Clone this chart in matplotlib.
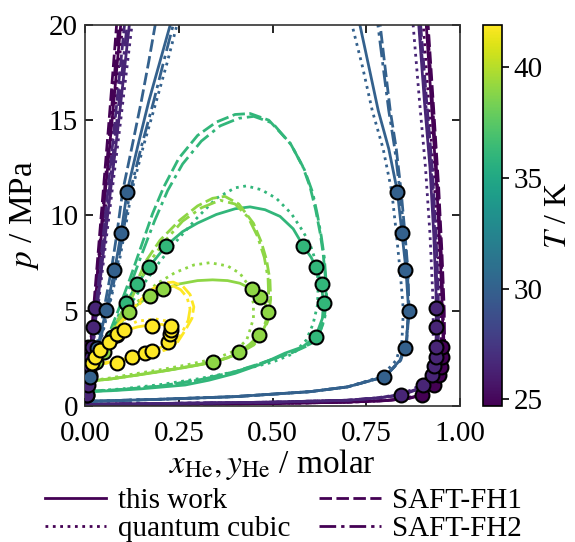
import numpy as np
import matplotlib
matplotlib.use("Agg")
import matplotlib.pyplot as plt
from matplotlib.lines import Line2D

plt.rcParams['font.family'] = ['Liberation Serif', 'DejaVu Serif']
plt.rcParams['mathtext.fontset'] = 'stix'

# ---------------- data ----------------
temperatures = [24.7, 26.5, 30.0, 36.0, 39.0, 41.9]
t_min, t_max = 24.7, 41.9
models = ["this work", "quantum cubic", "SAFT-FH1", "SAFT-FH2"]

# T = 24.7 K  (liquid and vapour branches, leave through the top)
t1_liq_p = [0.06, 2, 5, 10, 15, 20, 21]
t1_liq_solid_x = [0, 0.01, 0.025, 0.048, 0.072, 0.095, 0.1]
t1_liq_dot_x = [0, 0.011, 0.027, 0.052, 0.077, 0.1, 0.105]
t1_liq_dash_x = [0, 0.009, 0.022, 0.043, 0.064, 0.084, 0.088]
t1_liq_dd_x = [0, 0.0095, 0.024, 0.046, 0.068, 0.09, 0.094]
t1_vap_p = [0.06, 0.08, 0.13, 0.2, 0.28, 0.4, 0.6, 1.1, 1.6, 2.2, 3.2, 5, 8, 11.5, 15.5, 20, 21]
t1_vap_solid_x = [0, 0.2, 0.5, 0.7, 0.8, 0.86, 0.9, 0.93, 0.945, 0.952, 0.955, 0.953, 0.947, 0.938, 0.925, 0.91, 0.906]
t1_vap_dot_x = [0, 0.2, 0.5, 0.7, 0.8, 0.855, 0.893, 0.924, 0.94, 0.947, 0.95, 0.948, 0.942, 0.932, 0.918, 0.902, 0.898]
t1_vap_dash_x = [0, 0.2, 0.5, 0.7, 0.8, 0.865, 0.905, 0.934, 0.949, 0.956, 0.959, 0.958, 0.952, 0.943, 0.93, 0.915, 0.911]
t1_vap_dd_x = [0, 0.2, 0.5, 0.7, 0.8, 0.862, 0.902, 0.932, 0.947, 0.954, 0.957, 0.955, 0.95, 0.94, 0.928, 0.913, 0.909]

# T = 26.5 K
t2_liq_p = [0.1, 2, 5, 10, 15, 20, 21]
t2_liq_solid_x = [0, 0.013, 0.031, 0.06, 0.09, 0.118, 0.124]
t2_liq_dot_x = [0, 0.014, 0.033, 0.064, 0.095, 0.125, 0.131]
t2_liq_dash_x = [0, 0.012, 0.028, 0.054, 0.08, 0.105, 0.11]
t2_liq_dd_x = [0, 0.0125, 0.03, 0.057, 0.085, 0.112, 0.117]
t2_vap_p = [0.1, 0.13, 0.2, 0.3, 0.42, 0.58, 0.85, 1.15, 1.6, 2.1, 2.8, 4, 6, 9, 12.5, 16, 20, 21]
t2_vap_solid_x = [0, 0.2, 0.5, 0.7, 0.78, 0.84, 0.88, 0.905, 0.922, 0.93, 0.935, 0.937, 0.936, 0.93, 0.92, 0.905, 0.89, 0.886]
t2_vap_dot_x = [0, 0.2, 0.5, 0.7, 0.775, 0.832, 0.872, 0.897, 0.914, 0.922, 0.927, 0.929, 0.927, 0.92, 0.908, 0.892, 0.875, 0.871]
t2_vap_dash_x = [0, 0.2, 0.5, 0.7, 0.783, 0.845, 0.885, 0.91, 0.927, 0.936, 0.941, 0.943, 0.942, 0.936, 0.926, 0.911, 0.895, 0.891]
t2_vap_dd_x = [0, 0.2, 0.5, 0.7, 0.782, 0.843, 0.883, 0.908, 0.925, 0.933, 0.938, 0.94, 0.939, 0.933, 0.923, 0.908, 0.892, 0.888]

# T = 30 K
t3_liq_p = [0.24, 1.54, 3.03, 5.04, 7.14, 9.07, 11.25, 13.6, 16, 18.1, 20, 21]
t3_liq_solid_x = [0, 0.013, 0.033, 0.056, 0.079, 0.096, 0.112, 0.14, 0.17, 0.2, 0.227, 0.24]
t3_liq_dot_x = [0, 0.015, 0.037, 0.062, 0.087, 0.105, 0.124, 0.155, 0.19, 0.22, 0.245, 0.258]
t3_liq_dash_x = [0, 0.012, 0.03, 0.05, 0.07, 0.085, 0.1, 0.125, 0.15, 0.17, 0.187, 0.196]
t3_liq_dd_x = [0, 0.014, 0.035, 0.06, 0.084, 0.101, 0.12, 0.15, 0.183, 0.21, 0.235, 0.247]
t3_vap_p = [0.24, 0.35, 0.49, 0.75, 1.0, 1.54, 2.4, 3.4, 5.0, 7.14, 9.1, 11.25, 13.5, 15.5, 17.8, 20, 21]
t3_vap_solid_x = [0, 0.2, 0.4, 0.6, 0.7, 0.8, 0.84, 0.857, 0.863, 0.856, 0.845, 0.833, 0.81, 0.782, 0.757, 0.733, 0.722]
t3_vap_dot_x = [0, 0.2, 0.4, 0.6, 0.7, 0.79, 0.83, 0.845, 0.849, 0.84, 0.83, 0.818, 0.795, 0.766, 0.74, 0.712, 0.7]
t3_vap_dash_x = [0, 0.2, 0.4, 0.6, 0.7, 0.8, 0.842, 0.858, 0.864, 0.861, 0.853, 0.843, 0.83, 0.814, 0.8, 0.787, 0.781]
t3_vap_dd_x = [0, 0.2, 0.4, 0.6, 0.7, 0.8, 0.841, 0.857, 0.863, 0.86, 0.851, 0.84, 0.826, 0.81, 0.795, 0.781, 0.775]

# T = 36 K (closed loops: bubble branch up, dew branch down)
t4_solid_x = [0, 0.03, 0.06, 0.085, 0.109, 0.139, 0.171, 0.216, 0.26, 0.3, 0.35, 0.4, 0.44, 0.48, 0.52, 0.555, 0.582, 0.603, 0.618, 0.63, 0.636, 0.633, 0.615, 0.58, 0.533, 0.47, 0.4, 0.33, 0.267, 0.15, 0.07, 0]
t4_solid_p = [0.75, 2.0, 3.3, 4.4, 5.39, 6.4, 7.31, 8.41, 9.15, 9.6, 10.05, 10.35, 10.45, 10.3, 9.95, 9.3, 8.4, 7.8, 7.2, 6.4, 5.4, 4.6, 3.64, 3.1, 2.77, 2.2, 1.71, 1.35, 1.1, 0.9, 0.8, 0.75]
t4_dot_x = [0, 0.03, 0.06, 0.09, 0.12, 0.16, 0.2, 0.25, 0.3, 0.35, 0.4, 0.43, 0.47, 0.51, 0.55, 0.58, 0.6, 0.615, 0.622, 0.62, 0.608, 0.59, 0.556, 0.5, 0.4, 0.3, 0.2, 0.1, 0]
t4_dot_p = [0.75, 2.0, 3.2, 4.3, 5.3, 6.5, 7.6, 8.8, 9.9, 10.9, 11.45, 11.55, 11.35, 10.9, 10.1, 9.2, 8.5, 7.6, 6.5, 5.3, 4.3, 3.46, 2.75, 2.3, 1.8, 1.42, 1.12, 0.9, 0.75]
t4_dash_x = [0, 0.03, 0.06, 0.09, 0.12, 0.15, 0.18, 0.21, 0.25, 0.3, 0.35, 0.4, 0.44, 0.49, 0.547, 0.58, 0.6, 0.615, 0.627, 0.635, 0.642, 0.643, 0.638, 0.625, 0.6, 0.55, 0.47, 0.4, 0.3, 0.2, 0.1, 0]
t4_dash_p = [0.75, 2.1, 3.6, 5.1, 6.7, 8.4, 10.1, 11.5, 13.0, 14.2, 14.9, 15.3, 15.35, 15.0, 13.8, 12.6, 11.5, 10.3, 9.07, 8.0, 6.5, 5.5, 4.6, 3.8, 3.25, 2.8, 2.25, 1.8, 1.35, 1.05, 0.87, 0.75]
t4_dd_x = [0, 0.03, 0.06, 0.09, 0.12, 0.15, 0.185, 0.22, 0.26, 0.31, 0.36, 0.41, 0.45, 0.5, 0.55, 0.585, 0.607, 0.62, 0.63, 0.638, 0.643, 0.645, 0.638, 0.624, 0.6, 0.55, 0.47, 0.4, 0.3, 0.2, 0.1, 0]
t4_dd_p = [0.75, 2.0, 3.4, 4.8, 6.3, 7.9, 9.7, 11.3, 12.7, 13.9, 14.7, 15.1, 15.2, 14.85, 13.7, 12.4, 11.2, 10.0, 8.9, 7.8, 6.5, 5.3, 4.5, 3.75, 3.22, 2.78, 2.24, 1.79, 1.34, 1.04, 0.86, 0.75]

# T = 39 K
t5_solid_x = [0, 0.03, 0.06, 0.09, 0.118, 0.145, 0.173, 0.209, 0.25, 0.3, 0.34, 0.38, 0.413, 0.446, 0.467, 0.482, 0.488, 0.485, 0.475, 0.464, 0.44, 0.411, 0.38, 0.342, 0.267, 0.2, 0.133, 0.07, 0]
t5_solid_p = [1.28, 2.3, 3.3, 4.2, 4.95, 5.4, 5.77, 6.12, 6.4, 6.58, 6.62, 6.58, 6.44, 6.12, 5.74, 5.3, 4.95, 4.4, 4.0, 3.73, 3.25, 2.82, 2.52, 2.29, 2.02, 1.8, 1.6, 1.42, 1.28]
t5_dot_x = [0, 0.03, 0.06, 0.09, 0.12, 0.15, 0.19, 0.24, 0.29, 0.333, 0.38, 0.413, 0.437, 0.449, 0.449, 0.44, 0.431, 0.4, 0.35, 0.27, 0.2, 0.13, 0.07, 0]
t5_dot_p = [1.28, 2.3, 3.3, 4.2, 5.0, 5.7, 6.4, 7.0, 7.4, 7.52, 7.35, 6.96, 6.3, 5.39, 4.6, 4.0, 3.46, 2.9, 2.5, 2.15, 1.9, 1.68, 1.48, 1.28]
t5_dash_x = [0, 0.03, 0.06, 0.09, 0.111, 0.135, 0.164, 0.2, 0.253, 0.3, 0.34, 0.373, 0.41, 0.449, 0.47, 0.484, 0.493, 0.495, 0.488, 0.475, 0.45, 0.41, 0.35, 0.27, 0.2, 0.13, 0.07, 0]
t5_dash_p = [1.28, 2.4, 3.5, 4.6, 5.39, 6.4, 7.66, 8.7, 9.76, 10.5, 10.9, 11.0, 10.6, 9.59, 8.6, 7.66, 6.61, 5.6, 4.5, 3.8, 3.2, 2.75, 2.35, 2.05, 1.82, 1.6, 1.43, 1.28]
t5_dd_x = [0, 0.03, 0.06, 0.09, 0.115, 0.14, 0.17, 0.21, 0.26, 0.31, 0.36, 0.4, 0.435, 0.46, 0.478, 0.488, 0.49, 0.483, 0.47, 0.445, 0.41, 0.35, 0.27, 0.2, 0.13, 0.07, 0]
t5_dd_p = [1.28, 2.3, 3.4, 4.4, 5.3, 6.3, 7.5, 8.6, 9.7, 10.4, 10.8, 10.6, 9.9, 8.9, 7.8, 6.7, 5.6, 4.5, 3.8, 3.2, 2.74, 2.34, 2.04, 1.81, 1.6, 1.42, 1.28]

# T = 41.9 K
t6_solid_x = [0, 0.018, 0.04, 0.065, 0.084, 0.105, 0.14, 0.178, 0.205, 0.222, 0.229, 0.228, 0.222, 0.205, 0.178, 0.16, 0.124, 0.084, 0.04, 0]
t6_solid_p = [2.1, 2.5, 2.94, 3.38, 3.7, 3.95, 4.15, 4.27, 4.28, 4.2, 4.0, 3.76, 3.4, 3.1, 2.9, 2.77, 2.56, 2.38, 2.22, 2.1]
t6_dot_x = [0, 0.02, 0.045, 0.07, 0.1, 0.14, 0.187, 0.22, 0.237, 0.24, 0.232, 0.21, 0.18, 0.13, 0.08, 0.04, 0]
t6_dot_p = [2.1, 2.6, 3.1, 3.6, 4.1, 4.45, 4.57, 4.45, 4.15, 3.8, 3.4, 3.05, 2.85, 2.6, 2.38, 2.22, 2.1]
t6_dash_x = [0, 0.03, 0.06, 0.09, 0.12, 0.15, 0.18, 0.21, 0.235, 0.26, 0.28, 0.29, 0.285, 0.268, 0.245, 0.215, 0.18, 0.13, 0.08, 0.04, 0]
t6_dash_p = [2.1, 2.85, 3.6, 4.3, 4.95, 5.6, 6.15, 6.45, 6.5, 6.3, 5.85, 5.2, 4.6, 4.0, 3.3, 2.95, 2.75, 2.52, 2.33, 2.2, 2.1]
t6_dd_x = [0, 0.03, 0.06, 0.09, 0.12, 0.15, 0.18, 0.21, 0.235, 0.255, 0.272, 0.28, 0.275, 0.26, 0.24, 0.21, 0.18, 0.13, 0.08, 0.04, 0]
t6_dd_p = [2.1, 2.8, 3.5, 4.2, 4.85, 5.45, 5.95, 6.25, 6.3, 6.1, 5.7, 5.1, 4.5, 3.9, 3.25, 2.93, 2.74, 2.51, 2.32, 2.19, 2.1]

# experimental points
exp1_x = [0.004, 0.005, 0.006, 0.007, 0.008, 0.009, 0.898, 0.931, 0.945, 0.949, 0.951, 0.951]
exp1_p = [0.58, 1.1, 1.63, 2.07, 2.59, 3.11, 0.58, 1.1, 1.63, 2.07, 2.59, 3.11]
exp2_x = [0.006, 0.009, 0.012, 0.014, 0.016, 0.018, 0.022, 0.027, 0.843, 0.9, 0.924, 0.931, 0.935, 0.936, 0.936, 0.936]
exp2_p = [0.58, 1.1, 1.63, 2.1, 2.59, 3.11, 4.13, 5.13, 0.58, 1.1, 1.63, 2.1, 2.59, 3.11, 4.16, 5.13]
exp3_x = [0.013, 0.033, 0.055, 0.078, 0.095, 0.111, 0.798, 0.854, 0.864, 0.854, 0.844, 0.833]
exp3_p = [1.54, 3.03, 5.04, 7.14, 9.07, 11.25, 1.5, 3.03, 5.0, 7.14, 9.1, 11.25]
exp4_x = [0.072, 0.109, 0.139, 0.171, 0.216, 0.615, 0.638, 0.633, 0.616, 0.582]
exp4_p = [3.64, 5.39, 6.4, 7.31, 8.41, 3.64, 5.39, 6.39, 7.31, 8.4]
exp5_x = [0.03, 0.05, 0.085, 0.118, 0.173, 0.209, 0.342, 0.411, 0.464, 0.487, 0.467, 0.446]
exp5_p = [2.29, 2.82, 3.73, 4.95, 5.77, 6.12, 2.29, 2.82, 3.73, 4.95, 5.74, 6.12]
exp6_x = [0.018, 0.027, 0.04, 0.065, 0.084, 0.105, 0.178, 0.084, 0.124, 0.16, 0.178, 0.22, 0.226, 0.229, 0.228]
exp6_p = [2.24, 2.59, 2.94, 3.38, 3.78, 3.99, 4.2, 2.24, 2.56, 2.77, 2.9, 3.38, 3.76, 3.99, 4.2]

open_curves = [
    (t1_liq_p, [t1_liq_solid_x, t1_liq_dot_x, t1_liq_dash_x, t1_liq_dd_x]),
    (t1_vap_p, [t1_vap_solid_x, t1_vap_dot_x, t1_vap_dash_x, t1_vap_dd_x]),
    (t2_liq_p, [t2_liq_solid_x, t2_liq_dot_x, t2_liq_dash_x, t2_liq_dd_x]),
    (t2_vap_p, [t2_vap_solid_x, t2_vap_dot_x, t2_vap_dash_x, t2_vap_dd_x]),
    (t3_liq_p, [t3_liq_solid_x, t3_liq_dot_x, t3_liq_dash_x, t3_liq_dd_x]),
    (t3_vap_p, [t3_vap_solid_x, t3_vap_dot_x, t3_vap_dash_x, t3_vap_dd_x]),
]
open_temps = [0, 0, 1, 1, 2, 2]
loops = {
    3: [(t4_solid_x, t4_solid_p), (t4_dot_x, t4_dot_p), (t4_dash_x, t4_dash_p), (t4_dd_x, t4_dd_p)],
    4: [(t5_solid_x, t5_solid_p), (t5_dot_x, t5_dot_p), (t5_dash_x, t5_dash_p), (t5_dd_x, t5_dd_p)],
    5: [(t6_solid_x, t6_solid_p), (t6_dot_x, t6_dot_p), (t6_dash_x, t6_dash_p), (t6_dd_x, t6_dd_p)],
}
exp_sets = [(exp1_x, exp1_p), (exp2_x, exp2_p), (exp3_x, exp3_p),
            (exp4_x, exp4_p), (exp5_x, exp5_p), (exp6_x, exp6_p)]

styles = ['-', ':', (0, (4.5, 1.6)), (0, (6, 1.8, 1.2, 1.8))]
lw = 2.0

# ---------------- figure ----------------
fig = plt.figure(figsize=(5.75, 5.42), dpi=100)
ax = fig.add_axes([0.148, 0.251, 0.652, 0.703])
cax = fig.add_axes([0.840, 0.251, 0.033, 0.703])

cmap = plt.get_cmap('viridis')
norm = matplotlib.colors.Normalize(vmin=t_min, vmax=t_max)

for (pp, xs_list), ti in zip(open_curves, open_temps):
    c = cmap(norm(temperatures[ti]))
    for xs, ls in zip(xs_list, styles):
        ax.plot(xs, pp, color=c, ls=ls, lw=lw, zorder=2)

for ti, curves in loops.items():
    c = cmap(norm(temperatures[ti]))
    for (xs, ps), ls in zip(curves, styles):
        ax.plot(xs, ps, color=c, ls=ls, lw=lw, zorder=2)

for ti, (ex, ep) in enumerate(exp_sets):
    c = cmap(norm(temperatures[ti]))
    ax.plot(ex, ep, 'o', ms=10, mfc=c, mec='black', mew=1.5, ls='none', zorder=3)

ax.set_xlim(0, 1)
ax.set_ylim(0, 20)
ax.set_xticks([0, 0.25, 0.5, 0.75, 1.0])
ax.set_xticklabels(['0.00', '0.25', '0.50', '0.75', '1.00'])
ax.set_yticks([0, 5, 10, 15, 20])
ax.tick_params(direction='in', top=True, right=True, labelsize=21, length=6, width=1.2)
ax.tick_params(axis='x', pad=11)
ax.tick_params(axis='y', pad=5)
for s in ax.spines.values():
    s.set_linewidth(1.2)
    s.set_color('#333333')
ax.set_xlabel(r'$x_\mathrm{He}, y_\mathrm{He}$ / molar', fontsize=24, labelpad=0)
ax.set_ylabel(r'$p$ / MPa', fontsize=24, labelpad=6)

sm = matplotlib.cm.ScalarMappable(norm=norm, cmap=cmap)
cb = fig.colorbar(sm, cax=cax)
cb.set_ticks([25, 30, 35, 40])
cb.ax.tick_params(labelsize=21, length=5, width=1.2)
cb.set_label(r'$T$ / K', fontsize=23, labelpad=1)
cb.outline.set_linewidth(1.2)

leg_color = cmap(0.0)
handles = [Line2D([], [], color=leg_color, ls=ls, lw=lw) for ls in styles]
fig.legend(handles, models,
           loc='upper left', bbox_to_anchor=(0.078, 0.1), ncol=2, frameon=False,
           fontsize=21, handlelength=2.1, handletextpad=0.4, columnspacing=1.0,
           labelspacing=0.05, borderaxespad=0, borderpad=0)

fig.savefig('out.png', dpi=100)
